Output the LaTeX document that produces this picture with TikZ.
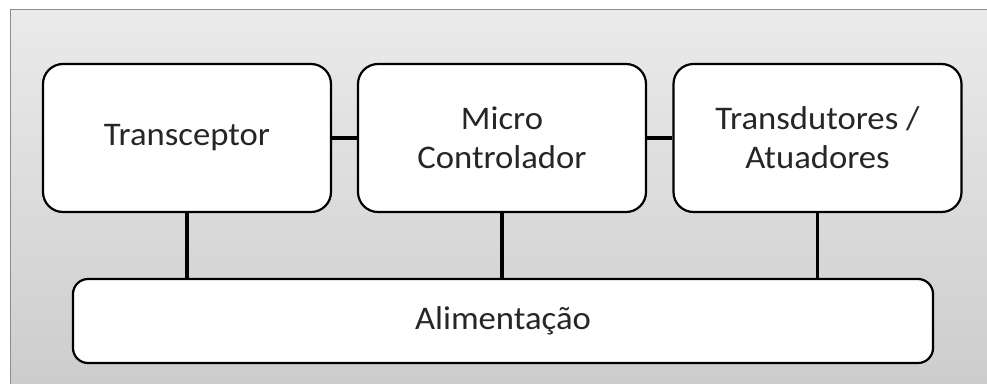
\documentclass[tikz,border=0pt]{standalone}
\usepackage{fontspec}
\setmainfont{Carlito}
\newfontfamily\blocofont[FakeStretch=1.05]{Carlito}

\begin{document}
\begin{tikzpicture}[x=1pt,y=-1pt,line join=round]
    \tikzstyle{bloco}=[draw=black,fill=white,rounded corners=20pt,line width=2.2pt,
                       minimum width=288pt,minimum height=148pt,align=center,
                       font=\blocofont\fontsize{33}{39}\selectfont,text=black!85]
    \tikzstyle{liga}=[line width=3.8pt,black]
    \useasboundingbox (0,0) rectangle (987,383);
    % fundo
    \shade[top color=gray!16,bottom color=gray!40,draw=gray!90,line width=1.4pt]
        (10.5,9.5) rectangle (995,395);

    \foreach \name/\x/\txt in {trans/187/{Transceptor}, micro/502/{Micro\\Controlador},
                               atua/817.5/{Transdutores /\\Atuadores}}
        \node[bloco] (\name) at (\x,138) {\txt};

    \node[bloco,rounded corners=15pt,minimum width=860pt,minimum height=84pt]
        (alim) at (503,321) {Alimenta\c{c}\~ao};

    \foreach \from/\to in {trans/micro, micro/atua}
        \draw[liga] (\from) -- (\to);

    \foreach \name in {trans, micro, atua}
        \draw[liga] (\name.south) -- (\name.south |- alim.north);
\end{tikzpicture}
\end{document}
